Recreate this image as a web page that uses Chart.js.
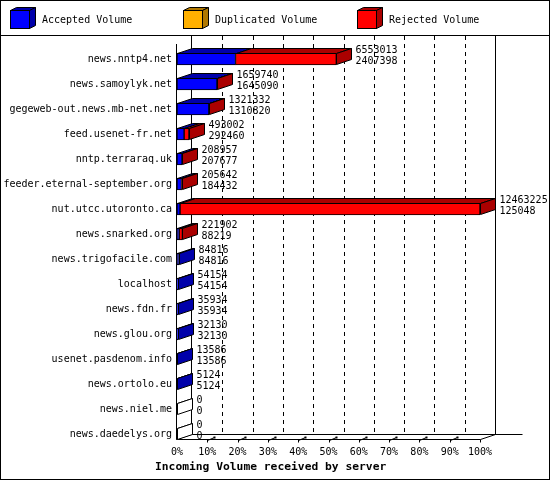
<!DOCTYPE html>
<html>
<head>
<meta charset="utf-8">
<script src="https://cdn.jsdelivr.net/npm/chart.js@4.4.1/dist/chart.umd.min.js"></script>
<style>
  html, body { margin: 0; padding: 0; background: #fff; }
  #wrap { width: 550px; height: 480px; }
</style>
</head>
<body>
<div id="wrap"><canvas id="volChart" width="550" height="480"></canvas></div>
<script>
// servers and their incoming volume (top number = total, bottom = accepted)
const servers = ['news.nntp4.net', 'news.samoylyk.net', 'gegeweb-out.news.mb-net.net',
  'feed.usenet-fr.net', 'nntp.terraraq.uk', 'feeder.eternal-september.org',
  'nut.utcc.utoronto.ca', 'news.snarked.org', 'news.trigofacile.com', 'localhost',
  'news.fdn.fr', 'news.glou.org', 'usenet.pasdenom.info', 'news.ortolo.eu',
  'news.niel.me', 'news.daedelys.org'];
const totalVolume = [6553013, 1659740, 1321332, 493002, 208957, 205642, 12463225, 221902,
  84816, 54154, 35934, 32130, 13586, 5124, 0, 0];
const acceptedVolume = [2407398, 1645090, 1310820, 292460, 207677, 184432, 125048, 88219,
  84816, 54154, 35934, 32130, 13586, 5124, 0, 0];
const duplicatedVolume = [0, 0, 0, 0, 0, 0, 0, 0, 0, 0, 0, 0, 0, 0, 0, 0];
const rejectedVolume = totalVolume.map((t, i) => t - acceptedVolume[i] - duplicatedVolume[i]);
const seriesNames = ['Accepted Volume', 'Duplicated Volume', 'Rejected Volume'];
const percentTicks = [0, 10, 20, 30, 40, 50, 60, 70, 80, 90, 100];

const maxVolume = Math.max(...totalVolume);
const frontColors = ['#0000ff', '#ffb000', '#ff0000'];
const sideColors = ['#0000aa', '#b07800', '#aa0000'];
const DX = 15, DY = 5; // depth of the 3d effect
const FONT = 'DejaVu Sans Mono';

function poly(ctx, pts, fill) {
  ctx.beginPath();
  ctx.moveTo(pts[0][0], pts[0][1]);
  for (let k = 1; k < pts.length; k++) ctx.lineTo(pts[k][0], pts[k][1]);
  ctx.closePath();
  ctx.fillStyle = fill;
  ctx.fill();
  ctx.stroke();
}

function line(ctx, x1, y1, x2, y2) {
  ctx.beginPath();
  ctx.moveTo(x1, y1);
  ctx.lineTo(x2, y2);
  ctx.stroke();
}

const threeD = {
  id: 'threeD',
  beforeDatasetsDraw(chart) {
    // back walls, floor and dashed grid
    const ctx = chart.ctx;
    const xs = chart.scales.x;
    const a = chart.chartArea;
    const left = Math.round(a.left) - 0.5;
    const right = Math.round(xs.getPixelForValue(maxVolume)) + 0.5;
    const yFront = 439.5, yBack = yFront - DY;
    ctx.save();
    ctx.strokeStyle = '#000';
    ctx.lineWidth = 1;
    ctx.setLineDash([4, 4]);
    for (let p = 10; p < 100; p += 10) {
      const gx = Math.round(xs.getPixelForValue(maxVolume * p / 100)) + DX + 0.5;
      line(ctx, gx, 36, gx, yBack);
    }
    ctx.setLineDash([]);
    line(ctx, left + DX, 36, left + DX, yBack);       // left back wall
    line(ctx, right + DX, 36, right + DX, yBack);     // right wall
    line(ctx, left + DX, yBack, right + DX + 27, yBack); // back floor
    line(ctx, left, yFront, right, yFront);           // front floor
    line(ctx, left, yFront, left + DX, yBack);
    line(ctx, right, yFront, right + DX, yBack);
    line(ctx, left, 44, left, yFront);                // front axis
    for (let p = 10; p <= 100; p += 10) {
      const tx = Math.round(xs.getPixelForValue(maxVolume * p / 100)) + 0.5;
      line(ctx, tx, yFront, tx, yFront + 3);
      if (p < 100) {
        line(ctx, tx, yFront + 1, tx + 7, yFront - 2);
        ctx.fillStyle = '#000';
        ctx.fillRect(tx + 6, yFront - 3, 2, 2);
      }
    }
    ctx.restore();
  },
  afterDatasetsDraw(chart) {
    // top and side faces of every bar, then the two numbers
    const ctx = chart.ctx;
    const metas = chart.data.datasets.map((d, k) => chart.getDatasetMeta(k));
    ctx.save();
    ctx.strokeStyle = '#000';
    ctx.lineWidth = 1;
    servers.forEach((name, i) => {
      const first = metas[0].data[i];
      const half = first.height / 2;
      const top = Math.round(first.y - half) + 0.5;
      const bot = Math.round(first.y + half) - 0.5;
      let end = Math.round(first.base) + 0.5;
      let lastColor = '#ffffff';
      metas.forEach((m, k) => {
        const el = m.data[i];
        if (chart.data.datasets[k].data[i] <= 0) return;
        const b = Math.round(el.base) + 0.5;
        const e = Math.round(el.x) + 0.5;
        poly(ctx, [[b, top], [e, top], [e + DX, top - DY], [b + DX, top - DY]], sideColors[k]);
        lastColor = sideColors[k];
        end = e;
      });
      if (lastColor === '#ffffff') {
        line(ctx, end, top, end + DX, top - DY);
      }
      poly(ctx, [[end, top], [end + DX, top - DY], [end + DX, bot - DY], [end, bot]], lastColor);

      ctx.fillStyle = '#000';
      ctx.font = '10px "' + FONT + '"';
      ctx.textAlign = 'left';
      ctx.textBaseline = 'middle';
      ctx.fillText(String(totalVolume[i]), end + DX + 4, first.y - 9);
      ctx.fillText(String(acceptedVolume[i]), end + DX + 4, first.y + 2);
    });
    ctx.restore();
  },
  afterDraw(chart) {
    const ctx = chart.ctx;
    ctx.save();
    ctx.strokeStyle = '#000';
    ctx.lineWidth = 1;
    // legend with small cubes
    const legendX = [10, 183, 357];
    chart.data.datasets.forEach((ds, k) => {
      const x0 = legendX[k] + 0.5, y0 = 10.5, w = 19, h = 18, d = 6, dd = 3;
      poly(ctx, [[x0, y0], [x0 + d, y0 - dd], [x0 + w + d, y0 - dd], [x0 + w, y0]], sideColors[k]);
      poly(ctx, [[x0 + w, y0], [x0 + w + d, y0 - dd], [x0 + w + d, y0 + h - dd], [x0 + w, y0 + h]], sideColors[k]);
      ctx.fillStyle = frontColors[k];
      ctx.fillRect(x0, y0, w, h);
      ctx.strokeRect(x0, y0, w, h);
      ctx.fillStyle = '#000';
      ctx.font = '10px "' + FONT + '"';
      ctx.textAlign = 'left';
      ctx.textBaseline = 'middle';
      ctx.fillText(ds.label, legendX[k] + 32, 20);
    });
    line(ctx, 0, 35.5, 550, 35.5);
    ctx.strokeRect(0.5, 0.5, 549, 479);
    // axis title
    ctx.fillStyle = '#000';
    ctx.font = 'bold 11.3px "' + FONT + '"';
    ctx.textAlign = 'left';
    ctx.textBaseline = 'middle';
    ctx.fillText('Incoming Volume received by server', 155, 467);
    ctx.restore();
  }
};

const seriesValues = [acceptedVolume, duplicatedVolume, rejectedVolume];

Chart.defaults.font.family = FONT;
Chart.defaults.font.size = 10;
Chart.defaults.color = '#000';

const ctx = document.getElementById('volChart').getContext('2d');
const volChart = new Chart(ctx, {
  type: 'bar',
  data: {
    labels: servers,
    datasets: seriesNames.map((name, k) => ({
      label: name,
      data: seriesValues[k],
      backgroundColor: frontColors[k],
      borderColor: '#000',
      borderWidth: 1,
      borderSkipped: false,
      barThickness: 12
    }))
  },
  options: {
    indexAxis: 'y',
    responsive: false,
    animation: false,
    events: [],
    layout: { padding: { top: 46.5, right: 70, bottom: 0, left: 0 } },
    plugins: {
      legend: { display: false },
      tooltip: { enabled: false },
      title: { display: false }
    },
    scales: {
      x: {
        stacked: true,
        min: 0,
        max: maxVolume,
        grid: { display: false, drawTicks: false },
        border: { display: false },
        afterFit: (s) => { s.height = 33.5; },
        afterBuildTicks: (s) => { s.ticks = percentTicks.map(p => ({ value: maxVolume * p / 100 })); },
        ticks: {
          padding: 0,
          autoSkip: false,
          maxRotation: 0,
          callback: (v) => Math.round(v / maxVolume * 100) + '%'
        }
      },
      y: {
        stacked: true,
        grid: { display: false, drawTicks: false },
        border: { display: false },
        afterFit: (s) => { s.width = 177; },
        ticks: { padding: 5, autoSkip: false }
      }
    }
  },
  plugins: [threeD]
});
</script>
</body>
</html>
